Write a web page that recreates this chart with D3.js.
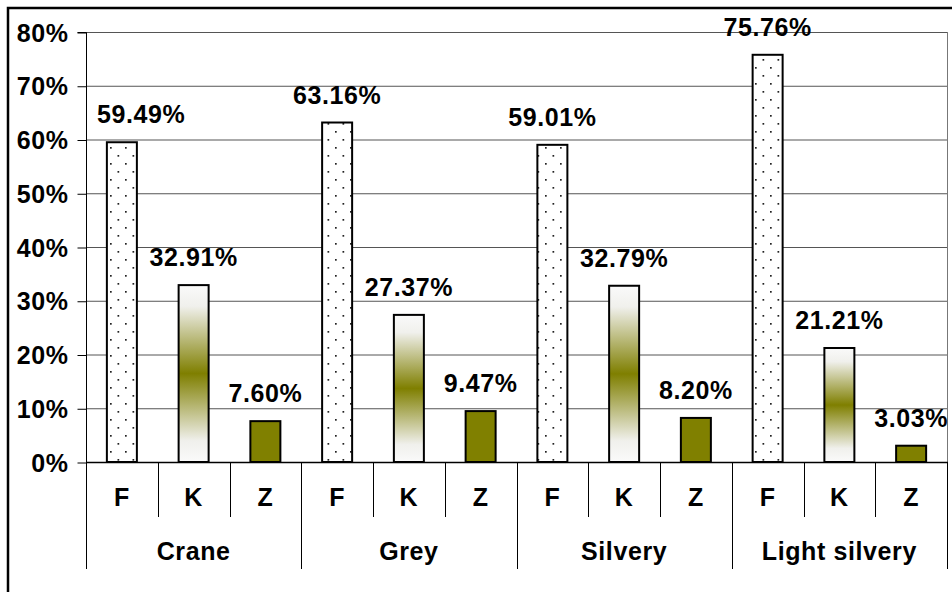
<!DOCTYPE html>
<html>
<head>
<meta charset="utf-8">
<script src="https://cdn.jsdelivr.net/npm/d3@7"></script>
<style>
  html, body { margin: 0; padding: 0; background: #fff; overflow: hidden; }
  svg { display: block; font-family: "Liberation Sans", Arial, sans-serif; font-weight: bold; }
  svg text { letter-spacing: 0.6px; }
</style>
</head>
<body>
<svg id="chart" width="952" height="592"></svg>
<script>
// Colour groups and the three classes shown within each group
const groups = ["Crane", "Grey", "Silvery", "Light silvery"];
const classes = ["F", "K", "Z"];

// Share of each class per group, in percent
const valuesF = [59.49, 63.16, 59.01, 75.76];
const valuesK = [32.91, 27.37, 32.79, 21.21];
const valuesZ = [7.60, 9.47, 8.20, 3.03];

// Y axis ticks (percent)
const yTicks = [0, 10, 20, 30, 40, 50, 60, 70, 80];

const seriesValues = { F: valuesF, K: valuesK, Z: valuesZ };

const W = 952, H = 592;
const plot = { left: 86, right: 947, top: 32, bottom: 462 };
const FONT = 25;

const svg = d3.select("#chart");
const defs = svg.append("defs");

// Dotted fill for the F bars
const dots = defs.append("pattern")
  .attr("id", "dots")
  .attr("patternUnits", "userSpaceOnUse")
  .attr("width", 15).attr("height", 16)
  .attr("x", 2).attr("y", 0);
dots.append("rect").attr("width", 15).attr("height", 16).attr("fill", "#fff");
dots.append("rect").attr("x", 3).attr("y", 3).attr("width", 1.7).attr("height", 1.7).attr("fill", "#222");
dots.append("rect").attr("x", 10.5).attr("y", 11).attr("width", 1.7).attr("height", 1.7).attr("fill", "#222");

// White - olive - white fill for the K bars
const grad = defs.append("linearGradient")
  .attr("id", "olive-band")
  .attr("x1", 0).attr("y1", 0).attr("x2", 0).attr("y2", 1);
grad.append("stop").attr("offset", "0%").attr("stop-color", "#fafafa");
grad.append("stop").attr("offset", "12%").attr("stop-color", "#f0f0ec");
grad.append("stop").attr("offset", "50%").attr("stop-color", "#7f7f00");
grad.append("stop").attr("offset", "88%").attr("stop-color", "#f0f0ec");
grad.append("stop").attr("offset", "100%").attr("stop-color", "#fafafa");

const fills = { F: "url(#dots)", K: "url(#olive-band)", Z: "#808000" };

// Scales
const x0 = d3.scaleBand().domain(groups).range([plot.left, plot.right]).padding(0);
const x1 = d3.scaleBand().domain(classes).range([0, x0.bandwidth()]).padding(0);
const y = d3.scaleLinear().domain([0, 80]).range([plot.bottom, plot.top]);
const barW = 30;

// Outer frame of the chart area
svg.append("rect")
  .attr("x", 8).attr("y", 8)
  .attr("width", W + 20).attr("height", H + 20)
  .attr("fill", "none").attr("stroke", "#000").attr("stroke-width", 2.5);

// Horizontal gridlines
svg.append("g")
  .selectAll("line")
  .data(yTicks.filter(t => t > 0))
  .join("line")
  .attr("x1", plot.left).attr("x2", plot.right)
  .attr("y1", d => y(d) + 0.5).attr("y2", d => y(d) + 0.5)
  .attr("stroke", "#555").attr("stroke-width", 1);

// Right border of the plot area
svg.append("line")
  .attr("x1", plot.right + 0.5).attr("x2", plot.right + 0.5)
  .attr("y1", plot.top).attr("y2", plot.bottom)
  .attr("stroke", "#777").attr("stroke-width", 1);

// Y axis
const yAxis = d3.axisLeft(y)
  .tickValues(yTicks)
  .tickSize(9)
  .tickPadding(9)
  .tickFormat(d => d + "%");
const yg = svg.append("g")
  .attr("transform", `translate(${plot.left + 0.5},0.5)`)
  .call(yAxis);
yg.select(".domain").attr("stroke", "#000").attr("d", `M-9,${plot.top}H0V${plot.bottom}`);
yg.selectAll(".tick line").attr("stroke", "#000");
yg.selectAll(".tick text")
  .attr("font-size", FONT).attr("font-weight", "bold")
  .attr("font-family", "Liberation Sans, Arial, sans-serif")
  .attr("fill", "#000")
  .attr("dy", "0.34em");

// Bars
const rows = [];
groups.forEach((g, gi) => {
  classes.forEach(c => rows.push({ group: g, cls: c, value: seriesValues[c][gi] }));
});

const barX = d => x0(d.group) + x1(d.cls) + (x1.bandwidth() - barW) / 2;

svg.append("g")
  .selectAll("rect")
  .data(rows)
  .join("rect")
  .attr("x", barX)
  .attr("y", d => y(d.value))
  .attr("width", barW)
  .attr("height", d => y(0) - y(d.value))
  .attr("fill", d => fills[d.cls])
  .attr("stroke", "#000")
  .attr("stroke-width", 2);

// Value labels above the bars
const fmt = d => d.toFixed(2) + "%";
const labels = svg.append("g")
  .selectAll("text")
  .data(rows)
  .join("text")
  .attr("x", d => barX(d) + barW / 2)
  .attr("y", d => y(d.value) - 19)
  .attr("text-anchor", "middle")
  .attr("font-size", FONT)
  .attr("fill", "#000")
  .text(d => fmt(d.value));

// Keep labels clear of the y axis
labels.each(function () {
  const bb = this.getBBox();
  const minLeft = plot.left + 11;
  if (bb.x < minLeft) {
    d3.select(this).attr("x", +d3.select(this).attr("x") + (minLeft - bb.x));
  }
});

// Category axis: baseline, class dividers and group dividers
const axisG = svg.append("g").attr("stroke", "#000").attr("stroke-width", 1);
axisG.append("line")
  .attr("x1", plot.left).attr("x2", plot.right + 1)
  .attr("y1", plot.bottom + 0.5).attr("y2", plot.bottom + 0.5)
  .attr("stroke-width", 1.5);

const innerDividers = [];
groups.forEach(g => classes.slice(1).forEach(c => innerDividers.push(x0(g) + x1(c))));
axisG.selectAll("line.inner")
  .data(innerDividers)
  .join("line")
  .attr("class", "inner")
  .attr("x1", d => Math.round(d) + 0.5).attr("x2", d => Math.round(d) + 0.5)
  .attr("y1", plot.bottom).attr("y2", 517);

const groupDividers = groups.map(g => x0(g)).concat([plot.right]);
axisG.selectAll("line.outer")
  .data(groupDividers)
  .join("line")
  .attr("class", "outer")
  .attr("x1", d => Math.round(d) + 0.5).attr("x2", d => Math.round(d) + 0.5)
  .attr("y1", plot.bottom).attr("y2", 569);

// Class labels
svg.append("g")
  .selectAll("text")
  .data(rows)
  .join("text")
  .attr("x", d => x0(d.group) + x1(d.cls) + x1.bandwidth() / 2)
  .attr("y", 506)
  .attr("text-anchor", "middle")
  .attr("font-size", FONT)
  .attr("fill", "#000")
  .text(d => d.cls);

// Group labels
svg.append("g")
  .selectAll("text")
  .data(groups)
  .join("text")
  .attr("x", d => x0(d) + x0.bandwidth() / 2)
  .attr("y", 560)
  .attr("text-anchor", "middle")
  .attr("font-size", FONT)
  .attr("fill", "#000")
  .text(d => d);
</script>
</body>
</html>
